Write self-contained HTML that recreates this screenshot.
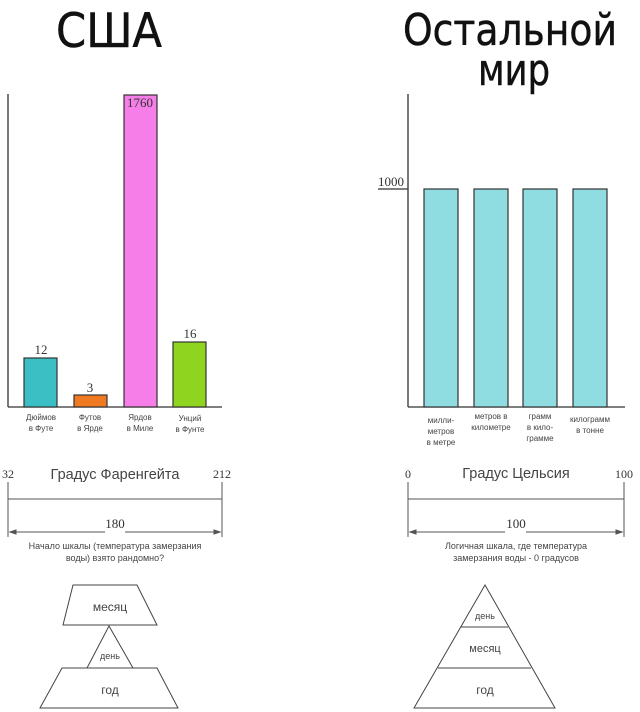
<!DOCTYPE html>
<html><head><meta charset="utf-8"><style>
body{margin:0;background:#fff;width:640px;height:712px;overflow:hidden}
svg{display:block}
.s{font-family:"Liberation Sans","DejaVu Sans",sans-serif;fill:#444}
.r{font-family:"Liberation Serif",serif;fill:#333}
.t{font-family:"DejaVu Sans","Liberation Sans",sans-serif;fill:#111;stroke:#111;stroke-width:0.5}
</style></head><body>
<svg width="640" height="712" viewBox="0 0 640 712">
<text class="t" x="56" y="47" font-size="47" textLength="106" lengthAdjust="spacingAndGlyphs">США</text>
<text class="t" x="403" y="45" font-size="44" textLength="214" lengthAdjust="spacingAndGlyphs">Остальной</text>
<text class="t" x="478" y="85" font-size="44" textLength="72" lengthAdjust="spacingAndGlyphs">мир</text>
<g stroke="#333" stroke-width="1.3" fill="none">
<line x1="8" y1="94" x2="8" y2="407"/><line x1="8" y1="407" x2="222" y2="407"/>
<line x1="408" y1="94" x2="408" y2="407"/><line x1="408" y1="407" x2="625" y2="407"/>
<line x1="378" y1="189" x2="408" y2="189"/>
</g>
<g stroke="#333" stroke-width="1.2">
<rect x="24" y="358" width="33" height="49" fill="#3bbfc4"/>
<rect x="74" y="395" width="33" height="12" fill="#f07a22"/>
<rect x="124" y="95" width="33" height="312" fill="#f57ee8"/>
<rect x="173" y="342" width="33" height="65" fill="#8fd41e"/>
<rect x="424" y="189" width="34" height="218" fill="#8fdde0"/>
<rect x="474" y="189" width="34" height="218" fill="#8fdde0"/>
<rect x="523" y="189" width="34" height="218" fill="#8fdde0"/>
<rect x="573" y="189" width="34" height="218" fill="#8fdde0"/>
</g>
<g class="r" font-size="13" text-anchor="middle">
<text x="41" y="354">12</text><text x="90" y="392">3</text><text x="140" y="107">1760</text><text x="190" y="338">16</text>
<text x="391" y="186">1000</text>
</g>
<g class="s" font-size="8" text-anchor="middle">
<text x="41" y="420">Дюймов</text><text x="41" y="431">в Футе</text>
<text x="90" y="420">Футов</text><text x="90" y="431">в Ярде</text>
<text x="140" y="420">Ярдов</text><text x="140" y="431">в Миле</text>
<text x="190" y="421">Унций</text><text x="190" y="432">в Фунте</text>
<text x="441" y="423">милли-</text><text x="441" y="434">метров</text><text x="441" y="445">в метре</text>
<text x="491" y="419">метров в</text><text x="491" y="430">километре</text>
<text x="540" y="419">грамм</text><text x="540" y="430">в кило-</text><text x="540" y="441">грамме</text>
<text x="590" y="422">килограмм</text><text x="590" y="433">в тонне</text>
</g>
<g class="r" font-size="12">
<text x="8" y="478" text-anchor="middle">32</text><text x="222" y="478" text-anchor="middle">212</text>
<text x="408" y="478" text-anchor="middle">0</text><text x="624" y="478" text-anchor="middle">100</text>
<text x="115" y="528" text-anchor="middle" font-size="13">180</text>
<text x="516" y="528" text-anchor="middle" font-size="13">100</text>
</g>
<g class="s" font-size="14.5" text-anchor="middle">
<text x="115" y="479">Градус Фаренгейта</text>
<text x="516" y="478">Градус Цельсия</text>
</g>
<g stroke="#555" stroke-width="1" fill="#555">
<line x1="8" y1="482" x2="8" y2="537"/><line x1="222" y1="482" x2="222" y2="537"/>
<line x1="8" y1="499" x2="222" y2="499"/>
<line x1="10" y1="532" x2="105" y2="532"/><line x1="125" y1="532" x2="220" y2="532"/>
<polygon points="10,532 16,530 16,534"/><polygon points="220,532 214,530 214,534"/>
<line x1="408" y1="482" x2="408" y2="537"/><line x1="624" y1="482" x2="624" y2="537"/>
<line x1="408" y1="499" x2="624" y2="499"/>
<line x1="410" y1="532" x2="505" y2="532"/><line x1="526" y1="532" x2="622" y2="532"/>
<polygon points="410,532 416,530 416,534"/><polygon points="622,532 616,530 616,534"/>
</g>
<g class="s" font-size="9" text-anchor="middle">
<text x="115" y="549">Начало шкалы (температура замерзания</text>
<text x="115" y="561">воды) взято рандомно?</text>
<text x="516" y="549">Логичная шкала, где температура</text>
<text x="516" y="561">замерзания воды - 0 градусов</text>
</g>
<g stroke="#444" stroke-width="1" fill="none">
<polygon points="73,585 137,585 157,625 63,625"/>
<polygon points="109,626 133,668 87,668"/>
<polygon points="62,668 157,668 178,708 40,708"/>
<polygon points="485,585 555,708 414,708"/>
<line x1="461" y1="627" x2="508" y2="627"/>
<line x1="438" y1="668" x2="531" y2="668"/>
</g>
<g class="s" font-size="12" text-anchor="middle" fill="#333">
<text x="110" y="611">месяц</text><text x="110" y="694">год</text>
<text x="110" y="659" font-size="9">день</text>
<text x="485" y="619" font-size="9">день</text>
<text x="485" y="652" font-size="11">месяц</text>
<text x="485" y="694">год</text>
</g>
</svg>
</body></html>
